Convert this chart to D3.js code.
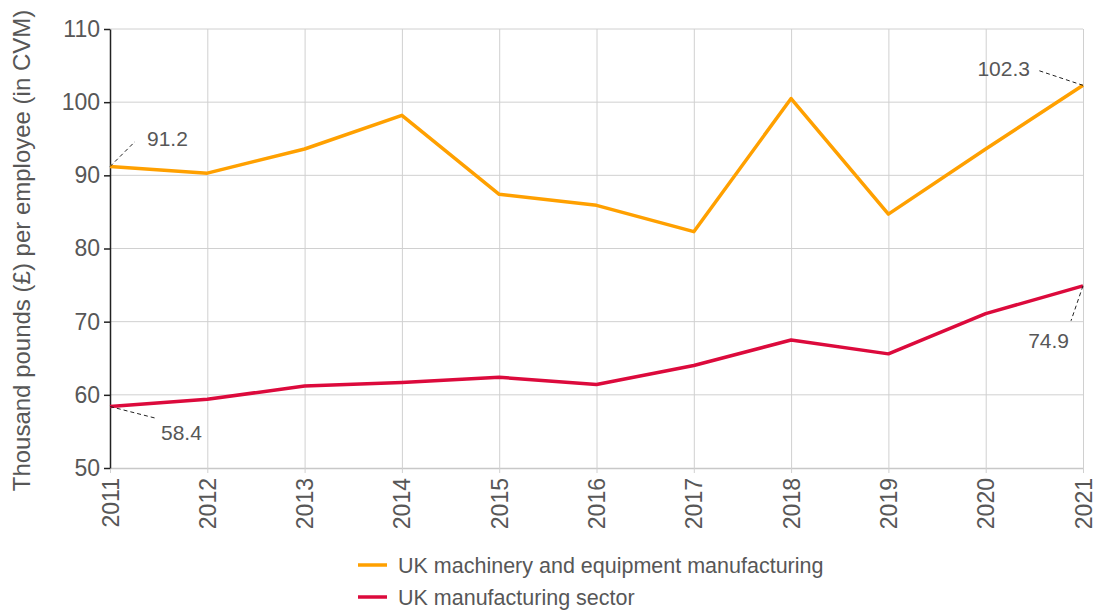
<!DOCTYPE html>
<html>
<head>
<meta charset="utf-8">
<script src="https://cdn.jsdelivr.net/npm/d3@7"></script>
<style>
  body { margin: 0; background: #fff; }
  text { font-family: "Liberation Sans", Arial, sans-serif; fill: #575757; }
</style>
</head>
<body>
<svg id="chart"></svg>
<script>
const years = [2011, 2012, 2013, 2014, 2015, 2016, 2017, 2018, 2019, 2020, 2021]
const machinery = [91.2, 90.3, 93.6, 98.2, 87.4, 85.9, 82.3, 100.5, 84.7, 93.6, 102.3]
const manufacturing = [58.4, 59.4, 61.2, 61.7, 62.4, 61.4, 64.0, 67.5, 65.6, 71.1, 74.9]
const yTicks = [50, 60, 70, 80, 90, 100, 110]
const seriesNames = ['UK machinery and equipment manufacturing', 'UK manufacturing sector']
const seriesColors = ['#ffa000', '#dc0a3c']

const width = 1096
const height = 611
const margin = {left: 110, top: 29, right: 13, bottom: 143}
const chartWidth = width - margin.left - margin.right
const chartHeight = height - margin.top - margin.bottom

const svg = d3.select('#chart')
  .attr('width', width)
  .attr('height', height)

const g = svg.append('g')
  .attr('transform', `translate(${margin.left},${margin.top})`)

// scales
const xScale = d3.scalePoint()
  .domain(years)
  .range([0, chartWidth])
const yScale = d3.scaleLinear()
  .domain([50, 110])
  .range([chartHeight, 0])

// grid lines
g.selectAll('.hgrid')
  .data(yTicks.slice(1))
  .enter()
  .append('line')
  .attr('x1', 0)
  .attr('x2', chartWidth)
  .attr('y1', d => yScale(d))
  .attr('y2', d => yScale(d))
  .attr('stroke', '#d0d0d0')
  .attr('stroke-width', 1)

// x axis with light grid lines
const xAxis = g.append('g')
  .attr('transform', `translate(0,${chartHeight})`)
  .call(d3.axisBottom(xScale).tickSize(5).tickSizeOuter(0))
xAxis.select('.domain').attr('stroke', '#c8c8c8').attr('stroke-width', 1.5)
xAxis.selectAll('.tick line').attr('stroke', '#d0d0d0')
xAxis.selectAll('.tick')
  .append('line')
  .attr('y1', 0)
  .attr('y2', -chartHeight)
  .attr('stroke', '#d0d0d0')
xAxis.selectAll('.tick text')
  .attr('transform', 'rotate(-90)')
  .attr('x', -10)
  .attr('y', 0)
  .attr('dy', '0.35em')
  .style('text-anchor', 'end')
  .style('font-size', '23px')
  .style('fill', '#575757')

// y axis
const yAxis = g.append('g')
  .call(d3.axisLeft(yScale).tickValues(yTicks).tickSize(6).tickSizeOuter(0))
yAxis.select('.domain').attr('stroke', '#222').attr('stroke-width', 1.5)
yAxis.selectAll('.tick line').attr('stroke', '#222').attr('stroke-width', 1.5)
yAxis.selectAll('.tick text')
  .attr('x', -10)
  .style('font-size', '23px')
  .style('fill', '#575757')

// y axis label
svg.append('text')
  .attr('transform', `translate(30,${margin.top + chartHeight / 2 + 2}) rotate(-90)`)
  .style('text-anchor', 'middle')
  .style('font-size', '24px')
  .text('Thousand pounds (£) per employee (in CVM)')

// lines
const line = d3.line()
  .x((d, i) => xScale(years[i]))
  .y(d => yScale(d))

;[machinery, manufacturing].forEach((vals, i) => {
  g.append('path')
    .datum(vals)
    .attr('fill', 'none')
    .attr('stroke', seriesColors[i])
    .attr('stroke-width', 3.5)
    .attr('stroke-linejoin', 'round')
    .attr('d', line)
})

// value labels with dashed leaders
const labels = [
  {year: 2011, value: machinery[0], dx: 25, dy: -25, tx: 37, ty: -21, anchor: 'start'},
  {year: 2021, value: machinery[10], dx: -45, dy: -15, tx: -53, ty: -9, anchor: 'end'},
  {year: 2011, value: manufacturing[0], dx: 47, dy: 12, tx: 51, ty: 33, anchor: 'start'},
  {year: 2021, value: manufacturing[10], dx: -12, dy: 35, tx: -14, ty: 62, anchor: 'end'}
]
labels.forEach(l => {
  const x = xScale(l.year)
  const y = yScale(l.value)
  g.append('line')
    .attr('x1', x)
    .attr('y1', y)
    .attr('x2', x + l.dx)
    .attr('y2', y + l.dy)
    .attr('stroke', '#222')
    .attr('stroke-width', 1)
    .attr('stroke-dasharray', '4,3')
  g.append('text')
    .attr('x', x + l.tx)
    .attr('y', y + l.ty)
    .style('text-anchor', l.anchor)
    .style('font-size', '21px')
    .text(l.value.toFixed(1))
})

// legend
const legend = svg.append('g')
  .attr('transform', 'translate(358,565)')
seriesNames.forEach((name, i) => {
  legend.append('line')
    .attr('x1', 0)
    .attr('x2', 29)
    .attr('y1', i * 32)
    .attr('y2', i * 32)
    .attr('stroke', seriesColors[i])
    .attr('stroke-width', 3.5)
  legend.append('text')
    .attr('x', 40)
    .attr('y', i * 32)
    .attr('dy', '0.35em')
    .style('font-size', '21.5px')
    .text(name)
})
</script>
</body>
</html>
